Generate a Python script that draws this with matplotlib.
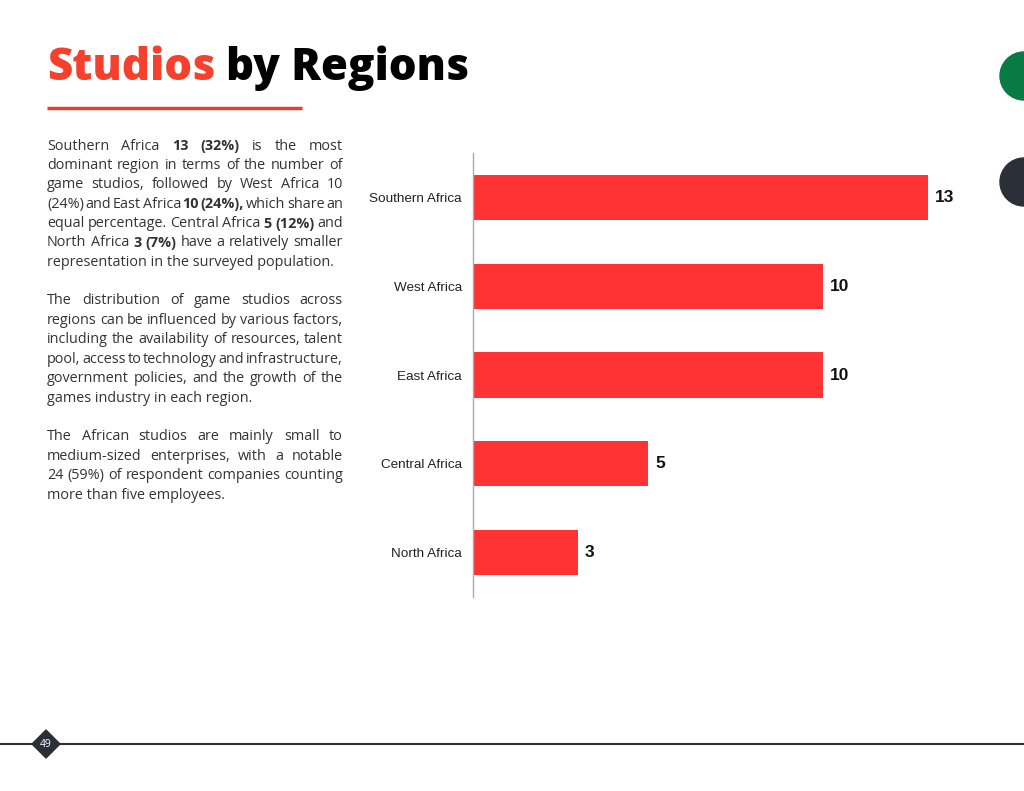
import matplotlib
matplotlib.use("Agg")
import matplotlib.pyplot as plt
from matplotlib.patches import Circle, Polygon

# datos del grafico
regiones = ["Southern Africa", "West Africa", "East Africa", "Central Africa", "North Africa"]
estudios = [13, 10, 10, 5, 3]

titulo_rojo = "Studios"
titulo_negro = "by Regions"
pagina = "49"

# texto lateral: cada linea es una lista de (texto, negrita)
parrafos = [
    [
        [("Southern Africa", False), ("13 (32%)", True), ("is the most", False)],
        [("dominant region in terms of the number of", False)],
        [("game studios, followed by West Africa 10", False)],
        [("(24%) and East Africa", False), ("10 (24%),", True), ("which share an", False)],
        [("equal percentage. Central Africa", False), ("5 (12%)", True), ("and", False)],
        [("North Africa", False), ("3 (7%)", True), ("have a relatively smaller", False)],
        [("representation in the surveyed population.", False)],
    ],
    [
        [("The distribution of game studios across", False)],
        [("regions can be influenced by various factors,", False)],
        [("including the availability of resources, talent", False)],
        [("pool, access to technology and infrastructure,", False)],
        [("government policies, and the growth of the", False)],
        [("games industry in each region.", False)],
    ],
    [
        [("The African studios are mainly small to", False)],
        [("medium-sized enterprises, with a notable", False)],
        [("24 (59%) of respondent companies counting", False)],
        [("more than five employees.", False)],
    ],
]
inicio_parrafos = [146, 301, 437]

fig = plt.figure(figsize=(10.24, 7.91), dpi=100)

# capa de fondo en pixeles
bg = fig.add_axes([0, 0, 1, 1])
bg.set_xlim(0, 1024)
bg.set_ylim(791, 0)
bg.axis("off")

# titulo
t1 = bg.text(47, 80, titulo_rojo, color="#F4402C", fontsize=31.5, family="Open Sans",
             fontweight=800, va="baseline")
fig.canvas.draw()
rend = fig.canvas.get_renderer()
ext = t1.get_window_extent(rend)
bg.text(ext.x1 + 11, 80, titulo_negro, color="black", fontsize=31.5, family="Open Sans",
        fontweight=800, va="baseline")
bg.plot([47, 302], [108, 108], color="#E04030", lw=2.5, solid_capstyle="butt")

# circulos decorativos a la derecha
bg.add_patch(Circle((1024, 76), 24, color="#0A7A45", clip_on=False))
bg.add_patch(Circle((1024, 182), 24, color="#2B2F38", clip_on=False))

# pie de pagina
bg.plot([0, 1024], [744, 744], color="#2B2F38", lw=1.5)
bg.add_patch(Polygon([[46, 730], [60, 744], [46, 758], [32, 744]], closed=True,
                     color="#2B2F38", zorder=3))
bg.text(46, 744.5, pagina, color="white", fontsize=7.5, family="Open Sans",
        ha="center", va="center", zorder=4)

# texto justificado
x0, x1 = 47, 343
salto = 19.4
tam = 10.4
gris = "#333333"


def ancho(txt, negrita):
    t = bg.text(0, 0, txt, fontsize=tam, family="Open Sans",
                fontweight="bold" if negrita else "normal")
    w = t.get_window_extent(rend).width
    t.remove()
    return w


for y0, lineas in zip(inicio_parrafos, parrafos):
    for i, linea in enumerate(lineas):
        y = y0 + i * salto
        ultima = i == len(lineas) - 1
        if ultima:
            bg.text(x0, y, linea[0][0], fontsize=tam, family="Open Sans", color=gris,
                    va="center")
            continue
        palabras = []
        for txt, neg in linea:
            for p in txt.split(" "):
                palabras.append((p, neg))
        anchos = [ancho(p, n) for p, n in palabras]
        hueco = (x1 - x0 - sum(anchos)) / (len(palabras) - 1)
        x = x0
        for (p, n), w in zip(palabras, anchos):
            bg.text(x, y, p, fontsize=tam, family="Open Sans", color=gris, va="center",
                    fontweight="bold" if n else "normal")
            x += w + hueco

# grafico de barras
ax = fig.add_axes([473 / 1024, 1 - 597 / 791, 525 / 1024, 444 / 791])
pos = range(len(regiones))
ax.barh(pos, estudios, height=0.51, color="#FF3333")
ax.set_ylim(4.5, -0.5)
ax.set_xlim(0, 15)
ax.set_yticks(list(pos))
ax.set_yticklabels(regiones, fontsize=9.7, family="Liberation Sans", color="#222222")
ax.tick_params(axis="y", length=0, pad=8)
ax.set_xticks([])
for s in ["top", "right", "bottom"]:
    ax.spines[s].set_visible(False)
ax.spines["left"].set_color("#AAAAAA")
ax.spines["left"].set_linewidth(1)
ax.patch.set_alpha(0)

for i, v in enumerate(estudios):
    ax.text(v + 0.2, i, str(v), va="center", ha="left", fontsize=12.5,
            fontweight="bold", family="Liberation Sans", color="#111111")

fig.savefig("out.png", dpi=100)
